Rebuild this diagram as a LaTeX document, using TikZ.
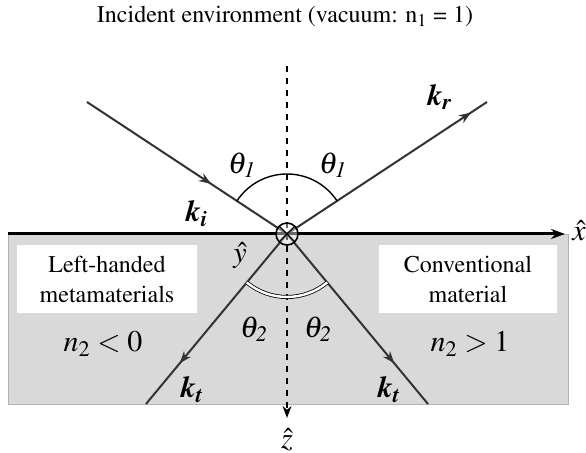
\documentclass[tikz,border=0pt]{standalone}
\usepackage[T1]{fontenc}
\usepackage{mathptmx}
\usetikzlibrary{arrows.meta, decorations.markings}

\newcommand{\kvec}[1]{\textbf{\textit{k}}\textsubscript{\textbf{\textit{#1}}}}
\newcommand{\thsub}[1]{$\theta_{\mathit{#1}}$}

\tikzset{
  ray/.style={draw=black!80, line width=1pt},
  midarrow/.style={postaction={decorate}, decoration={markings,
      mark=at position #1 with {\arrow{Stealth[length=6pt, width=4.5pt]}}}},
  lbl/.style={font=\fontsize{15}{17}\selectfont, inner sep=1pt},
  boxtext/.style={fill=white, align=center, minimum width=90pt, minimum height=34pt,
      inner sep=0pt, font=\fontsize{12}{15}\selectfont},
}

\begin{document}
\begin{tikzpicture}[x=0.5pt, y=0.5pt, >=Stealth]
    \useasboundingbox (-287,-219) rectangle (299,234);
    % ---------------- media
    \filldraw[fill=gray!30, draw=gray!60, line width=0.4pt] (-279,0) rectangle (281,-170);
    \node[boxtext] (lhm) at (-180,-45.5) {Left-handed\\metamaterials};
    \node[boxtext, minimum width=89pt] (conv) at (181,-45) {Conventional\\material};
    % ---------------- points
    \coordinate (O) at (0,0);
    \coordinate (inc) at (-200,132);
    \coordinate (refl) at (200,132);
    \coordinate (trL) at (-141,-170);
    \coordinate (trR) at (141,-170);
    \coordinate (xs) at (-279,0);
    \coordinate (xe) at (278,0);
    \coordinate (zs) at (0,168);
    \coordinate (ze) at (0,-184);
    % ---------------- axes
    \draw[dashed, line width=0.8pt, -{Stealth[length=6pt, width=4.5pt]}] (zs) -- (ze);
    % ---------------- rays
    \draw[ray, midarrow=0.62] (inc) -- (O);
    \draw[ray, midarrow=0.92] (O) -- (refl);
    \draw[ray, midarrow=0.76] (O) -- (trL);
    \draw[ray, midarrow=0.76] (O) -- (trR);
    \draw[line width=1.5pt, -{Stealth[length=7pt, width=5pt]}] (xs) -- (xe);
    % angles
    \draw[line width=0.7pt] (O) ++(33.4:60) arc[start angle=33.4, end angle=146.6, radius=60];
    \draw[line width=0.4pt, double=white, double distance=1.2pt]
      (O) ++(-129.7:63) arc[start angle=-129.7, end angle=-50.3, radius=63];
    % y axis into the page
    \draw[line width=0.8pt, fill=white, fill opacity=0.4] (O) circle[radius=11];
    \draw[line width=0.6pt] (O) ++(45:11) -- ++(225:22) (O) ++(135:11) -- ++(-45:22);
    % ---------------- labels
    \node (title) at (-2,217) {\fontsize{12}{14}\selectfont Incident environment (vacuum: n\textsubscript{1} = 1)};
    \node[lbl] (xhat) at (292,3) {$\hat{x}$};
    \node[lbl] (yhat) at (-47,-22) {$\hat{y}$};
    \node[lbl] (zhat) at (0,-206) {$\hat{z}$};
    \node[lbl] (ki) at (-90,20) {\kvec{i}};
    \node[lbl] (kr) at (153,137) {\kvec{r}};
    \node[lbl] (ktL) at (-95,-156) {\kvec{t}};
    \node[lbl] (ktR) at (102,-156) {\kvec{t}};
    \node[lbl] (th1L) at (-45,69) {\thsub{1}};
    \node[lbl] (th1R) at (46,69) {\thsub{1}};
    \node[lbl] (th2L) at (-33,-95) {\thsub{2}};
    \node[lbl] (th2R) at (31,-95) {\thsub{2}};
    \node[lbl] (nL) at (-184,-110) {$n_2 < 0$};
    \node[lbl] (nR) at (183,-110) {$n_2 > 1$};
\end{tikzpicture}
\end{document}
